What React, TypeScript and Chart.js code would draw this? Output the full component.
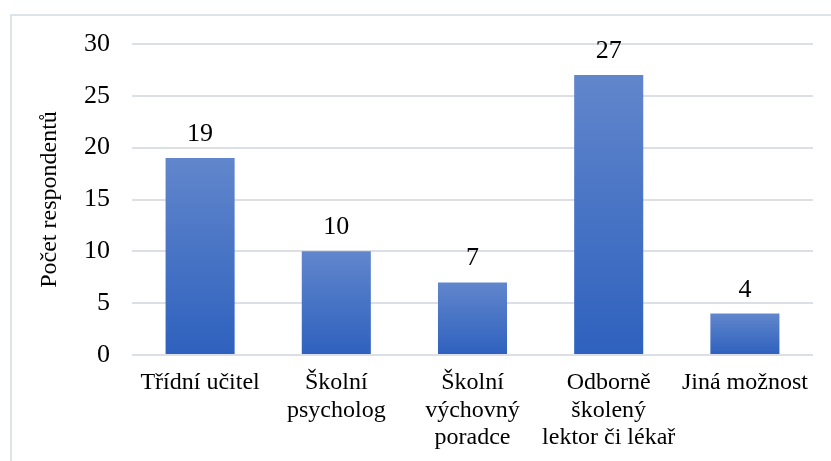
import React, { useEffect, useRef } from "react";
import { Chart, registerables } from "chart.js";

Chart.register(...registerables);

const categories: string[][] = [
  ["Třídní učitel"],
  ["Školní", "psycholog"],
  ["Školní", "výchovný", "poradce"],
  ["Odborně", "školený", "lektor či lékař"],
  ["Jiná možnost"],
];
const values: number[] = [19, 10, 7, 27, 4];
const yTitle = "Počet respondentů";
const yMin = 0;
const yMax = 30;
const yStep = 5;

const FONT = "'Liberation Serif', 'Times New Roman', serif";

const dataLabels = {
  id: "dataLabels",
  afterDatasetsDraw(chart: any) {
    const ctx = chart.ctx;
    const meta = chart.getDatasetMeta(0);
    ctx.save();
    ctx.font = `26px ${FONT}`;
    ctx.fillStyle = "#000";
    ctx.textAlign = "center";
    ctx.textBaseline = "alphabetic";
    meta.data.forEach((bar: any, i: number) => {
      ctx.fillText(String(values[i]), bar.x, bar.y - 17);
    });
    ctx.restore();
  },
};

export default function App() {
  const ref = useRef<HTMLCanvasElement | null>(null);
  useEffect(() => {
    if (!ref.current) return;
    const chart = new Chart(ref.current, {
      type: "bar",
      data: {
        labels: categories,
        datasets: [
          {
            data: values,
            categoryPercentage: 1,
            barPercentage: 0.507,
            backgroundColor: (c: any) => {
              const ch = c.chart;
              const y = ch.scales && ch.scales.y;
              if (!y || c.type !== "data") return "#4a74c4";
              const top = y.getPixelForValue(c.raw);
              const bottom = y.getPixelForValue(0);
              if (!isFinite(top) || !isFinite(bottom) || top === bottom) return "#4a74c4";
              const g = ch.ctx.createLinearGradient(0, top, 0, bottom);
              g.addColorStop(0, "#6186CC");
              g.addColorStop(1, "#2E61BE");
              return g;
            },
            borderWidth: 0,
          },
        ],
      },
      options: {
        responsive: false,
        animation: false,
        layout: { padding: { top: 44, right: 18, bottom: 0, left: 0 } },
        plugins: {
          legend: { display: false },
          tooltip: { enabled: false },
        },
        scales: {
          x: {
            grid: { display: false, drawTicks: false },
            border: { display: false },
            ticks: {
              autoSkip: false,
              maxRotation: 0,
              minRotation: 0,
              padding: 14,
              color: "#000",
              font: { family: FONT, size: 24, lineHeight: 1.15 },
            },
            afterFit: (s: any) => {
              s.height = 106;
            },
          },
          y: {
            min: yMin,
            max: yMax,
            ticks: {
              stepSize: yStep,
              padding: 22,
              color: "#000",
              font: { family: FONT, size: 26 },
            },
            grid: { color: "#DCDFE5", lineWidth: 2, drawTicks: false },
            border: { display: false },
            title: {
              display: true,
              text: yTitle,
              color: "#000",
              font: { family: FONT, size: 24, lineHeight: 1.2 },
              padding: { top: 35, bottom: 0 },
            },
            afterFit: (s: any) => {
              s.width = 132;
            },
          },
        },
      },
      plugins: [dataLabels],
    });
    return () => chart.destroy();
  }, []);

  return (
    <div
      style={{
        position: "fixed",
        left: 0,
        top: 0,
        width: 831,
        height: 461,
        overflow: "hidden",
        background: "#fff",
      }}
    >
      <div
        style={{
          position: "absolute",
          left: 10,
          top: 14,
          width: 1000,
          height: 1000,
          borderLeft: "2px solid #DEE3EB",
          borderTop: "2px solid #DEE3EB",
        }}
      />
      <canvas
        ref={ref}
        width={831}
        height={461}
        style={{ position: "absolute", left: 0, top: 0 }}
      />
    </div>
  );
}
